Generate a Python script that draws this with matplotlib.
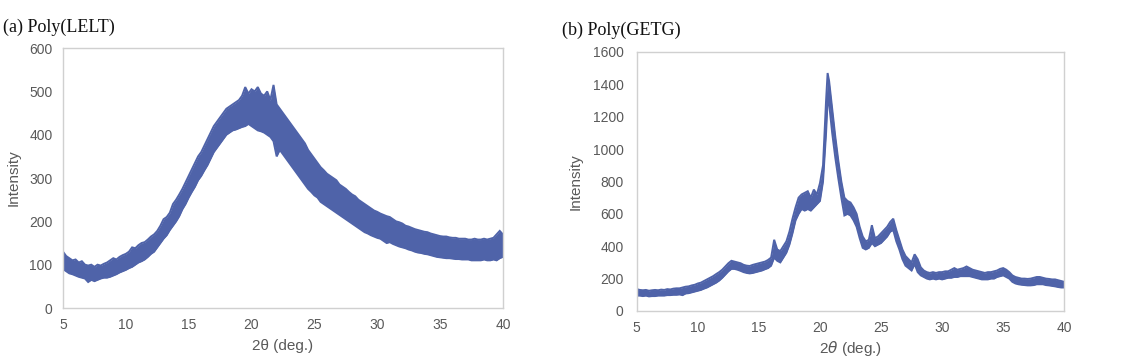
import matplotlib
matplotlib.use("Agg")
import matplotlib.pyplot as plt

# ---------------- data ----------------
# Panel (a) Poly(LELT): 2theta, upper and lower edge of the noisy trace
a_x = [5, 5.25, 5.5, 5.75, 6, 6.25, 6.5, 6.75, 7, 7.25, 7.5, 7.75, 8, 8.25, 8.5, 8.75,
       9, 9.25, 9.5, 9.75, 10, 10.25, 10.5, 10.75, 11, 11.25, 11.5, 11.75, 12, 12.25, 12.5, 12.75,
       13, 13.25, 13.5, 13.75, 14, 14.25, 14.5, 14.75, 15, 15.25, 15.5, 15.75, 16, 16.25, 16.5, 16.75,
       17, 17.25, 17.5, 17.75, 18, 18.25, 18.5, 18.75, 19, 19.25, 19.5, 19.75, 20, 20.25, 20.5, 20.75,
       21, 21.25, 21.5, 21.75, 22, 22.25, 22.5, 22.75, 23, 23.25, 23.5, 23.75, 24, 24.25, 24.5, 24.75,
       25, 25.25, 25.5, 25.75, 26, 26.25, 26.5, 26.75, 27, 27.25, 27.5, 27.75, 28, 28.25, 28.5, 28.75,
       29, 29.25, 29.5, 29.75, 30, 30.25, 30.5, 30.75, 31, 31.25, 31.5, 31.75, 32, 32.25, 32.5, 32.75,
       33, 33.25, 33.5, 33.75, 34, 34.25, 34.5, 34.75, 35, 35.25, 35.5, 35.75, 36, 36.25, 36.5, 36.75,
       37, 37.25, 37.5, 37.75, 38, 38.25, 38.5, 38.75, 39, 39.25, 39.5, 39.75, 40]
a_upper = [130, 120, 115, 110, 112, 105, 108, 100, 98, 100, 95, 100, 98, 102, 105, 110,
           115, 112, 118, 122, 125, 130, 140, 138, 145, 150, 152, 158, 165, 170, 178, 190,
           205, 210, 220, 240, 250, 262, 275, 290, 305, 320, 335, 350, 360, 375, 390, 405,
           420, 430, 440, 450, 460, 465, 470, 475, 480, 490, 510, 495, 505, 500, 510, 495,
           490, 500, 480, 515, 470, 460, 450, 440, 430, 420, 410, 400, 390, 380, 365, 355,
           345, 335, 325, 318, 310, 305, 300, 295, 285, 280, 275, 268, 262, 258, 250, 245,
           240, 235, 230, 225, 222, 218, 215, 212, 210, 205, 200, 198, 195, 190, 188, 185,
           182, 180, 178, 176, 175, 172, 170, 168, 166, 165, 165, 163, 162, 162, 160, 160,
           160, 158, 158, 160, 158, 158, 160, 158, 160, 162, 170, 178, 170]
a_lower = [90, 85, 80, 78, 75, 72, 70, 68, 60, 65, 62, 65, 68, 70, 70, 72,
           75, 78, 82, 85, 88, 92, 95, 100, 105, 108, 112, 118, 125, 130, 140, 150,
           160, 168, 180, 190, 200, 212, 228, 240, 255, 268, 280, 295, 305, 318, 330, 345,
           360, 370, 380, 390, 400, 405, 410, 412, 415, 418, 420, 425, 420, 415, 410, 408,
           405, 400, 395, 385, 350, 365, 355, 345, 335, 325, 315, 305, 295, 285, 275, 268,
           260, 255, 245, 240, 235, 230, 225, 220, 215, 210, 205, 200, 195, 190, 185, 180,
           175, 172, 168, 165, 162, 160, 155, 150, 152, 148, 145, 142, 140, 138, 135, 133,
           130, 128, 127, 125, 124, 122, 120, 118, 117, 116, 115, 115, 114, 113, 113, 112,
           112, 112, 110, 110, 110, 110, 112, 110, 110, 112, 110, 115, 118]

# Panel (b) Poly(GETG)
b_x = [5, 5.25, 5.5, 5.75, 6, 6.25, 6.5, 6.75, 7, 7.25, 7.5, 7.75, 8, 8.25, 8.5, 8.75,
       9, 9.25, 9.5, 9.75, 10, 10.25, 10.5, 10.75, 11, 11.25, 11.5, 11.75, 12, 12.25, 12.5, 12.75,
       13, 13.25, 13.5, 13.75, 14, 14.25, 14.5, 14.75, 15, 15.25, 15.5, 15.75, 16, 16.25, 16.5, 16.75,
       17, 17.25, 17.5, 17.75, 18, 18.25, 18.5, 18.75, 19, 19.25, 19.5, 19.75, 20, 20.25, 20.5, 20.625, 20.75,
       21, 21.25, 21.5, 21.75, 22, 22.25, 22.5, 22.75, 23, 23.25, 23.5, 23.75, 24, 24.25, 24.5, 24.75,
       25, 25.25, 25.5, 25.75, 26, 26.25, 26.5, 26.75, 27, 27.25, 27.5, 27.75, 28, 28.25, 28.5, 28.75,
       29, 29.25, 29.5, 29.75, 30, 30.25, 30.5, 30.75, 31, 31.25, 31.5, 31.75, 32, 32.25, 32.5, 32.75,
       33, 33.25, 33.5, 33.75, 34, 34.25, 34.5, 34.75, 35, 35.25, 35.5, 35.75, 36, 36.25, 36.5, 36.75,
       37, 37.25, 37.5, 37.75, 38, 38.25, 38.5, 38.75, 39, 39.25, 39.5, 39.75, 40]
b_upper = [135, 130, 128, 130, 125, 128, 130, 128, 132, 130, 135, 133, 138, 140, 140, 145,
           150, 152, 158, 162, 170, 175, 185, 195, 205, 215, 228, 240, 255, 275, 295, 310,
           305, 300, 295, 285, 280, 278, 285, 290, 295, 300, 305, 315, 330, 440, 380, 370,
           400, 430, 490, 570, 640, 700, 720, 730, 740, 700, 750, 720, 790, 900, 1300, 1470, 1420,
           1250, 1080, 930, 800, 700, 680, 670, 640, 600, 520, 460, 430, 440, 530, 450, 460,
           480, 500, 520, 550, 570, 500, 440, 380, 340, 320, 300, 350, 320, 270, 250, 240,
           235, 240, 235, 240, 240, 245, 245, 255, 265, 255, 260, 265, 275, 265, 255, 250,
           245, 240, 235, 240, 240, 245, 250, 260, 265, 255, 240, 220, 210, 205, 200, 200,
           198, 200, 205, 210, 210, 205, 200, 198, 195, 195, 190, 185, 180]
b_lower = [95, 95, 92, 95, 90, 92, 92, 95, 95, 95, 98, 98, 100, 100, 102, 98,
           108, 110, 115, 120, 125, 130, 138, 145, 155, 165, 175, 188, 205, 225, 245, 260,
           260, 255, 248, 240, 235, 232, 235, 240, 245, 250, 258, 265, 280, 330, 310, 300,
           330, 360, 410, 480, 560, 600, 630, 620, 630, 620, 640, 660, 680, 800, 1100, 1300, 1280,
           1100, 950, 820, 700, 590, 600, 590, 560, 520, 450, 390, 380, 390, 420, 400, 410,
           420, 440, 460, 490, 500, 430, 380, 320, 280, 265, 250, 290, 240, 220, 210, 200,
           195, 200, 195, 200, 195, 200, 205, 205, 210, 210, 215, 215, 215, 215, 210, 205,
           200, 195, 195, 195, 200, 200, 210, 215, 220, 210, 200, 180, 170, 165, 162, 160,
           158, 158, 160, 165, 165, 165, 160, 158, 155, 152, 148, 145, 145]

a_xticks = [5, 10, 15, 20, 25, 30, 35, 40]
a_yticks = [0, 100, 200, 300, 400, 500, 600]
b_xticks = [5, 10, 15, 20, 25, 30, 35, 40]
b_yticks = [0, 200, 400, 600, 800, 1000, 1200, 1400, 1600]

# ---------------- styling ----------------
LINE = "#4F63A9"
TICK = "#595959"
SPINE = "#D0D0D0"
plt.rcParams["font.family"] = ["Liberation Sans", "DejaVu Sans"]

fig = plt.figure(figsize=(11.25, 3.63), dpi=100)
ax1 = fig.add_axes([0.056, 0.1515, 0.391, 0.716])
ax2 = fig.add_axes([0.566, 0.1433, 0.380, 0.7135])


def draw(ax, x, up, lo, xt, yt, ymax, ypad):
    ax.fill_between(x, lo, up, color=LINE, lw=0)
    ax.plot(x, up, color=LINE, lw=1.4, solid_joinstyle="miter")
    ax.plot(x, lo, color=LINE, lw=1.4, solid_joinstyle="miter")
    ax.set_xlim(5, 40)
    ax.set_ylim(0, ymax)
    ax.set_xticks(xt)
    ax.set_yticks(yt)
    ax.tick_params(length=0, labelsize=10, labelcolor=TICK)
    ax.tick_params(axis="y", pad=ypad)
    ax.tick_params(axis="x", pad=7)
    for s in ax.spines.values():
        s.set_color(SPINE)
        s.set_linewidth(1.0)


draw(ax1, a_x, a_upper, a_lower, a_xticks, a_yticks, 600, 7.5)
draw(ax2, b_x, b_upper, b_lower, b_xticks, b_yticks, 1600, 9.5)
ax1.set_ylabel("Intensity", fontsize=11, color=TICK, labelpad=6)
ax2.set_ylabel("Intensity", fontsize=11, color=TICK, labelpad=7)
ax1.set_xlabel("2θ (deg.)", fontsize=11, color=TICK, labelpad=5)
ax2.set_xlabel(r"2$\it{\theta}$ (deg.)", fontsize=11, color=TICK, labelpad=3)

fig.text(0.003, 0.912, "(a) Poly(LELT)", family="Liberation Serif", fontsize=13, color="#111111")
fig.text(0.500, 0.905, "(b) Poly(GETG)", family="Liberation Serif", fontsize=13, color="#111111")

fig.savefig("out.png", dpi=100, facecolor="white")
